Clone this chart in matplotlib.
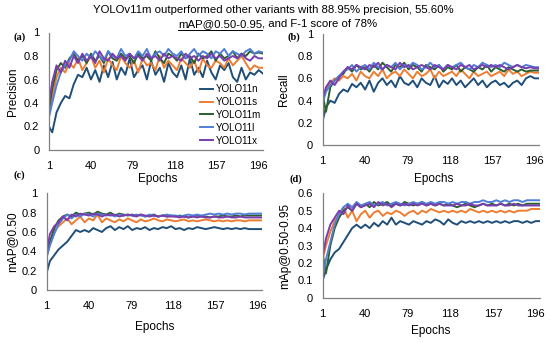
import matplotlib
matplotlib.use("Agg")
import matplotlib.pyplot as plt
from matplotlib.lines import Line2D
from matplotlib.ticker import FuncFormatter

plt.rcParams['font.family'] = ['Liberation Sans', 'DejaVu Sans']

# epochs sampled from the training curves
epochs = [1] + list(range(4, 201, 4))
models = ["YOLO11n", "YOLO11s", "YOLO11m", "YOLO11l", "YOLO11x"]
colors = ["#1f4e79", "#ed7d31", "#2b5f2c", "#4f7fd6", "#7a3db0"]
xticks = [1, 40, 79, 118, 157, 196]

precision_n = [0.20, 0.15, 0.32, 0.40, 0.46, 0.44, 0.56, 0.64, 0.62, 0.70,
               0.60, 0.68, 0.58, 0.72, 0.62, 0.75, 0.60, 0.70, 0.64, 0.78,
               0.62, 0.68, 0.72, 0.60, 0.76, 0.64, 0.70, 0.58, 0.74, 0.66,
               0.62, 0.72, 0.60, 0.78, 0.64, 0.70, 0.62, 0.76, 0.66, 0.60,
               0.72, 0.68, 0.74, 0.62, 0.58, 0.70, 0.60, 0.66, 0.64, 0.68,
               0.65]
precision_s = [0.30, 0.45, 0.62, 0.70, 0.66, 0.74, 0.70, 0.78, 0.68, 0.74,
               0.80, 0.70, 0.76, 0.66, 0.78, 0.72, 0.68, 0.80, 0.74, 0.70,
               0.76, 0.66, 0.78, 0.72, 0.74, 0.68, 0.80, 0.70, 0.76, 0.72,
               0.68, 0.78, 0.74, 0.70, 0.76, 0.66, 0.78, 0.72, 0.70, 0.76,
               0.74, 0.70, 0.78, 0.72, 0.76, 0.80, 0.74, 0.68, 0.72, 0.70,
               0.70]
precision_m = [0.35, 0.52, 0.68, 0.74, 0.70, 0.78, 0.82, 0.76, 0.80, 0.74,
               0.82, 0.76, 0.80, 0.74, 0.84, 0.78, 0.76, 0.82, 0.78, 0.80,
               0.74, 0.82, 0.78, 0.80, 0.76, 0.84, 0.78, 0.74, 0.82, 0.80,
               0.76, 0.82, 0.78, 0.80, 0.74, 0.82, 0.78, 0.80, 0.84, 0.76,
               0.82, 0.78, 0.80, 0.84, 0.78, 0.82, 0.80, 0.84, 0.82, 0.83,
               0.82]
precision_l = [0.28, 0.40, 0.55, 0.66, 0.72, 0.76, 0.84, 0.80, 0.76, 0.82,
               0.78, 0.84, 0.80, 0.76, 0.84, 0.80, 0.78, 0.86, 0.80, 0.82,
               0.78, 0.84, 0.80, 0.86, 0.78, 0.82, 0.84, 0.80, 0.86, 0.82,
               0.80, 0.84, 0.78, 0.82, 0.86, 0.80, 0.84, 0.82, 0.78, 0.84,
               0.82, 0.86, 0.80, 0.84, 0.82, 0.80, 0.84, 0.86, 0.82, 0.84,
               0.83]
precision_x = [0.40, 0.58, 0.72, 0.66, 0.76, 0.70, 0.80, 0.74, 0.82, 0.76,
               0.80, 0.74, 0.84, 0.78, 0.76, 0.82, 0.78, 0.80, 0.76, 0.82,
               0.78, 0.80, 0.76, 0.82, 0.78, 0.80, 0.76, 0.82, 0.78, 0.80,
               0.78, 0.76, 0.82, 0.78, 0.80, 0.76, 0.80, 0.78, 0.82, 0.78,
               0.80, 0.76, 0.78, 0.80, 0.78, 0.82, 0.78, 0.76, 0.80, 0.78,
               0.78]

recall_n = [0.22, 0.34, 0.40, 0.38, 0.46, 0.50, 0.48, 0.55, 0.52, 0.56,
            0.50, 0.58, 0.48, 0.56, 0.60, 0.54, 0.58, 0.52, 0.62, 0.56,
            0.54, 0.58, 0.52, 0.60, 0.56, 0.54, 0.62, 0.52, 0.58, 0.55,
            0.60, 0.54, 0.58, 0.52, 0.56, 0.60, 0.54, 0.58, 0.52, 0.56,
            0.58, 0.54, 0.56, 0.52, 0.56, 0.58, 0.54, 0.60, 0.62, 0.60,
            0.60]
recall_s = [0.40, 0.50, 0.56, 0.60, 0.58, 0.62, 0.60, 0.64, 0.58, 0.66,
            0.62, 0.60, 0.66, 0.62, 0.68, 0.60, 0.64, 0.66, 0.62, 0.68,
            0.64, 0.60, 0.66, 0.62, 0.64, 0.68, 0.60, 0.66, 0.62, 0.64,
            0.66, 0.62, 0.68, 0.64, 0.60, 0.66, 0.62, 0.64, 0.66, 0.62,
            0.64, 0.66, 0.62, 0.68, 0.64, 0.66, 0.62, 0.64, 0.66, 0.65,
            0.65]
recall_m = [0.45, 0.30, 0.52, 0.58, 0.62, 0.64, 0.70, 0.66, 0.72, 0.68,
            0.70, 0.66, 0.72, 0.68, 0.74, 0.70, 0.66, 0.72, 0.70, 0.74,
            0.68, 0.72, 0.70, 0.66, 0.72, 0.70, 0.68, 0.72, 0.66, 0.70,
            0.68, 0.72, 0.66, 0.70, 0.68, 0.66, 0.70, 0.68, 0.72, 0.66,
            0.70, 0.68, 0.66, 0.70, 0.68, 0.66, 0.68, 0.66, 0.67, 0.67,
            0.67]
recall_l = [0.38, 0.48, 0.54, 0.58, 0.62, 0.66, 0.68, 0.72, 0.66, 0.70,
            0.72, 0.68, 0.74, 0.70, 0.68, 0.72, 0.70, 0.74, 0.68, 0.72,
            0.70, 0.74, 0.72, 0.68, 0.70, 0.74, 0.70, 0.72, 0.68, 0.72,
            0.70, 0.72, 0.74, 0.70, 0.68, 0.72, 0.70, 0.74, 0.72, 0.70,
            0.72, 0.70, 0.74, 0.72, 0.70, 0.72, 0.70, 0.72, 0.71, 0.70,
            0.70]
recall_x = [0.42, 0.52, 0.58, 0.54, 0.60, 0.66, 0.70, 0.68, 0.72, 0.70,
            0.68, 0.72, 0.70, 0.74, 0.68, 0.72, 0.70, 0.68, 0.74, 0.70,
            0.72, 0.68, 0.70, 0.72, 0.70, 0.68, 0.72, 0.70, 0.68, 0.72,
            0.70, 0.68, 0.72, 0.70, 0.72, 0.68, 0.70, 0.72, 0.70, 0.72,
            0.70, 0.72, 0.70, 0.68, 0.70, 0.72, 0.70, 0.69, 0.70, 0.69,
            0.69]

map50_n = [0.18, 0.30, 0.36, 0.42, 0.46, 0.50, 0.56, 0.62, 0.60, 0.62,
           0.60, 0.64, 0.62, 0.60, 0.64, 0.66, 0.62, 0.65, 0.63, 0.66,
           0.62, 0.64, 0.63, 0.65, 0.62, 0.64, 0.63, 0.65, 0.64, 0.66,
           0.63, 0.64, 0.62, 0.64, 0.63, 0.65, 0.64, 0.63, 0.64, 0.65,
           0.64, 0.63, 0.64, 0.63, 0.64, 0.63, 0.64, 0.63, 0.63, 0.63,
           0.63]
map50_s = [0.35, 0.48, 0.62, 0.66, 0.70, 0.74, 0.68, 0.72, 0.76, 0.70,
           0.74, 0.72, 0.78, 0.70, 0.74, 0.72, 0.70, 0.73, 0.71, 0.74,
           0.72, 0.70, 0.73, 0.71, 0.72, 0.74, 0.72, 0.71, 0.73, 0.72,
           0.71, 0.72, 0.73, 0.71, 0.72, 0.71, 0.72, 0.73, 0.72, 0.71,
           0.72, 0.71, 0.72, 0.71, 0.72, 0.72, 0.71, 0.72, 0.72, 0.72,
           0.72]
map50_m = [0.38, 0.50, 0.64, 0.72, 0.76, 0.78, 0.76, 0.80, 0.78, 0.79,
           0.80, 0.78, 0.81, 0.79, 0.78, 0.80, 0.77, 0.79, 0.78, 0.77,
           0.78, 0.77, 0.78, 0.76, 0.77, 0.78, 0.76, 0.77, 0.76, 0.77,
           0.76, 0.77, 0.76, 0.75, 0.76, 0.77, 0.76, 0.76, 0.75, 0.76,
           0.76, 0.77, 0.76, 0.76, 0.77, 0.76, 0.77, 0.77, 0.77, 0.77,
           0.77]
map50_l = [0.34, 0.46, 0.58, 0.68, 0.74, 0.78, 0.74, 0.78, 0.76, 0.79,
           0.78, 0.76, 0.79, 0.78, 0.77, 0.78, 0.76, 0.78, 0.77, 0.78,
           0.77, 0.78, 0.77, 0.76, 0.78, 0.77, 0.76, 0.77, 0.78, 0.77,
           0.77, 0.76, 0.77, 0.78, 0.77, 0.78, 0.77, 0.78, 0.79, 0.78,
           0.79, 0.78, 0.79, 0.78, 0.79, 0.79, 0.78, 0.79, 0.79, 0.79,
           0.79]
map50_x = [0.40, 0.58, 0.66, 0.70, 0.76, 0.72, 0.78, 0.76, 0.79, 0.78,
           0.77, 0.79, 0.78, 0.76, 0.78, 0.77, 0.78, 0.76, 0.77, 0.78,
           0.77, 0.76, 0.78, 0.77, 0.76, 0.77, 0.76, 0.77, 0.76, 0.76,
           0.76, 0.75, 0.76, 0.75, 0.76, 0.75, 0.76, 0.75, 0.75, 0.76,
           0.75, 0.75, 0.76, 0.75, 0.75, 0.76, 0.75, 0.75, 0.75, 0.75,
           0.75]

map5095_n = [0.10, 0.16, 0.22, 0.26, 0.28, 0.32, 0.36, 0.40, 0.42, 0.40,
             0.42, 0.40, 0.43, 0.41, 0.44, 0.42, 0.46, 0.42, 0.44, 0.43,
             0.42, 0.44, 0.43, 0.42, 0.44, 0.43, 0.45, 0.44, 0.42, 0.45,
             0.43, 0.42, 0.44, 0.43, 0.44, 0.43, 0.44, 0.43, 0.44, 0.43,
             0.44, 0.43, 0.44, 0.43, 0.44, 0.44, 0.43, 0.44, 0.43, 0.44,
             0.44]
map5095_s = [0.22, 0.30, 0.38, 0.44, 0.48, 0.52, 0.46, 0.50, 0.44, 0.48,
             0.50, 0.46, 0.49, 0.50, 0.47, 0.49, 0.48, 0.50, 0.49, 0.47,
             0.49, 0.50, 0.48, 0.50, 0.49, 0.51, 0.50, 0.49, 0.50, 0.49,
             0.50, 0.49, 0.50, 0.49, 0.51, 0.50, 0.49, 0.50, 0.49, 0.50,
             0.49, 0.50, 0.49, 0.50, 0.49, 0.50, 0.50, 0.50, 0.51, 0.51,
             0.51]
map5095_m = [0.25, 0.14, 0.30, 0.40, 0.46, 0.50, 0.52, 0.50, 0.54, 0.52,
             0.54, 0.52, 0.55, 0.53, 0.54, 0.55, 0.53, 0.54, 0.53, 0.55,
             0.54, 0.53, 0.54, 0.55, 0.53, 0.54, 0.53, 0.54, 0.53, 0.54,
             0.53, 0.52, 0.53, 0.54, 0.53, 0.52, 0.53, 0.54, 0.53, 0.54,
             0.53, 0.54, 0.53, 0.54, 0.53, 0.54, 0.53, 0.54, 0.54, 0.54,
             0.54]
map5095_l = [0.12, 0.22, 0.32, 0.42, 0.48, 0.52, 0.54, 0.52, 0.55, 0.53,
             0.54, 0.55, 0.53, 0.54, 0.55, 0.53, 0.54, 0.55, 0.54, 0.53,
             0.54, 0.55, 0.54, 0.55, 0.54, 0.55, 0.54, 0.55, 0.55, 0.54,
             0.55, 0.54, 0.55, 0.55, 0.54, 0.55, 0.55, 0.56, 0.55, 0.55,
             0.56, 0.55, 0.56, 0.55, 0.56, 0.56, 0.55, 0.56, 0.56, 0.56,
             0.56]
map5095_x = [0.24, 0.34, 0.42, 0.46, 0.50, 0.48, 0.53, 0.50, 0.54, 0.52,
             0.53, 0.54, 0.52, 0.55, 0.53, 0.54, 0.52, 0.54, 0.53, 0.54,
             0.53, 0.54, 0.53, 0.54, 0.53, 0.54, 0.53, 0.54, 0.53, 0.53,
             0.53, 0.54, 0.53, 0.53, 0.54, 0.53, 0.53, 0.54, 0.53, 0.53,
             0.53, 0.54, 0.53, 0.53, 0.54, 0.53, 0.53, 0.53, 0.53, 0.53,
             0.53]

W, H = 550, 342
fig = plt.figure(figsize=(W / 100, H / 100), dpi=100)


def add_panel(left, right, bottom, top):
    # pixel box -> figure fractions
    return fig.add_axes([left / W, (H - bottom) / H, (right - left) / W, (bottom - top) / H])


# axes box, series, y label, y max, y step, tag, tag pos, x label pos, y label x
panels = [
    (add_panel(49, 263, 150, 32.5), [precision_n, precision_s, precision_m, precision_l, precision_x],
     "Precision", 1.0, 0.2, "(a)", (13, 37), (158, 179), 13),
    (add_panel(322.7, 539, 145.3, 33.7), [recall_n, recall_s, recall_m, recall_l, recall_x],
     "Recall", 1.0, 0.2, "(b)", (288, 37), (434, 179), 284),
    (add_panel(46.7, 262, 290, 193.3), [map50_n, map50_s, map50_m, map50_l, map50_x],
     "mAP@0.50", 1.0, 0.2, "(c)", (13, 175), (155, 327), 12),
    (add_panel(322.7, 540, 297.7, 193.3), [map5095_n, map5095_s, map5095_m, map5095_l, map5095_x],
     "mAp@0.50-0.95", 0.6, 0.1, "(d)", (290, 179), (431, 331), 285),
]

fmt = FuncFormatter(lambda v, p: "{:g}".format(round(v, 2)))
for ax, series, ylabel, ymax, step, tag, (tx, ty), (xlx, xly), ylx in panels:
    for vals, c, name in zip(series, colors, models):
        ax.plot(epochs, vals, color=c, lw=1.4, label=name)
    ax.set_xlim(1, 200)
    ax.set_ylim(0, ymax)
    ax.set_xticks(xticks)
    nt = int(round(ymax / step))
    ax.set_yticks([i * step for i in range(nt + 1)])
    ax.yaxis.set_major_formatter(fmt)
    ax.tick_params(length=0, labelsize=8, colors="black")
    ax.tick_params(axis="x", pad=8)
    ax.tick_params(axis="y", pad=7)
    for s in ["top", "right"]:
        ax.spines[s].set_visible(False)
    for s in ["left", "bottom"]:
        ax.spines[s].set_color("#808080")
        ax.spines[s].set_linewidth(0.9)
    ax.set_xlabel("Epochs", fontsize=8.5)
    ax.set_ylabel(ylabel, fontsize=8.5)
    ax.xaxis.set_label_coords(xlx / W, 1 - xly / H, transform=fig.transFigure)
    ax.xaxis.label.set_va("center")
    ax.yaxis.set_label_coords(ylx / W, 0.5, transform=fig.transFigure)
    ax.yaxis.label.set_va("center")
    ax.yaxis.set_label_coords(ylx / W, ax.get_position().y0 + ax.get_position().height / 2,
                              transform=fig.transFigure)
    fig.text(tx / W, 1 - ty / H, tag, fontsize=7.5, fontweight="bold",
             family=["Liberation Serif", "DejaVu Serif"], ha="left", va="center")

panels[0][0].legend(loc="upper left", bbox_to_anchor=(200 / W, 1 - 84 / H),
                    bbox_transform=fig.transFigure, frameon=False, fontsize=7,
                    handlelength=1.3, handletextpad=0.3, labelspacing=0.3,
                    borderpad=0, borderaxespad=0)

# title, second line has the metric underlined
fig.text(273 / W, 1 - 10 / H, "YOLOv11m outperformed other variants with 88.95% precision, 55.60%",
         fontsize=8.2, ha="center", va="center")
t1 = fig.text(178 / W, 1 - 24 / H, "mAP@0.50-0.95", fontsize=8.2, ha="left", va="center")
fig.canvas.draw()
bb = t1.get_window_extent()
fig.text(bb.x1 / W, 1 - 24 / H, ", and F-1 score of 78%", fontsize=8.2, ha="left", va="center")
fig.add_artist(Line2D([bb.x0 / W, bb.x1 / W], [(bb.y0 - 0.5) / H, (bb.y0 - 0.5) / H],
                      color="black", lw=0.7, transform=fig.transFigure))

fig.savefig("out.png", dpi=100)
